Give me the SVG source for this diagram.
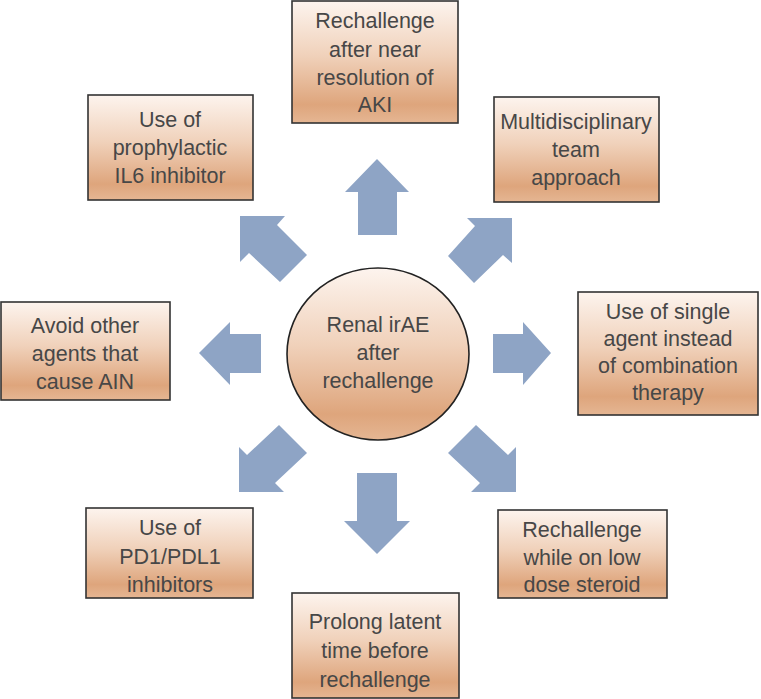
<svg xmlns="http://www.w3.org/2000/svg" width="761" height="699" viewBox="0 0 761 699">
<defs>
<linearGradient id="g" x1="0" y1="0" x2="0" y2="1">
<stop offset="0" stop-color="#fdf4ee"/>
<stop offset="0.45" stop-color="#f0d1ba"/>
<stop offset="0.85" stop-color="#dea57c"/>
<stop offset="1" stop-color="#e5b693"/>
</linearGradient>
<style>
.box{fill:url(#g);stroke:#333;stroke-width:1.6}
.t{font-family:"Liberation Sans",Arial,sans-serif;font-size:21.5px;fill:#474747;text-anchor:middle}
.ar{fill:#8ea4c5}
</style>
</defs>
<rect width="761" height="699" fill="#fff"/>
<g id="connectors">
<polygon class="ar" points="377,159 409,192 397,192 397,235 358,235 358,192 345,192"/>
<polygon class="ar" points="377,554 410,521 397,521 397,473 357,473 357,521 344,521"/>
<polygon class="ar" points="199,353 230,322 230,334 261,334 261,373 230,373 230,385"/>
<polygon class="ar" points="551,353 523,322 523,334 493,334 493,373 523,373 523,385"/>
<polygon class="ar" points="240,216 285,216 277,225 307,255 280,282 249,253 240,262"/>
<polygon class="ar" points="512,218 467,218 475,226 448,256 474,283 503,255 512,263"/>
<polygon class="ar" points="516,492 516,447 508,455 476,425 448,453 480,483 471,492"/>
<polygon class="ar" points="239,492 239,447 247,455 279,425 307,453 275,483 284,492"/>
</g>
<g id="center">
<ellipse cx="378" cy="354" rx="91" ry="86" fill="url(#g)" stroke="#222" stroke-width="1.6"/>
<text class="t" x="378" y="332">Renal irAE</text>
<text class="t" x="378" y="360">after</text>
<text class="t" x="378" y="388">rechallenge</text>
</g>
<g id="n-top">
<rect class="box" x="292" y="1" width="166" height="122"/>
<text class="t" x="375" y="28">Rechallenge</text>
<text class="t" x="375" y="57">after near</text>
<text class="t" x="375" y="85">resolution of</text>
<text class="t" x="375" y="112">AKI</text>
</g>
<g id="n-il6">
<rect class="box" x="88" y="95" width="165" height="105"/>
<text class="t" x="170" y="127">Use of</text>
<text class="t" x="170" y="155">prophylactic</text>
<text class="t" x="170" y="183">IL6 inhibitor</text>
</g>
<g id="n-multi">
<rect class="box" x="494" y="97" width="165" height="105"/>
<text class="t" x="576" y="129">Multidisciplinary</text>
<text class="t" x="576" y="157">team</text>
<text class="t" x="576" y="185">approach</text>
</g>
<g id="n-avoid">
<rect class="box" x="1" y="302" width="169" height="98"/>
<text class="t" x="85" y="333">Avoid other</text>
<text class="t" x="85" y="361">agents that</text>
<text class="t" x="85" y="389">cause AIN</text>
</g>
<g id="n-single">
<rect class="box" x="578" y="292" width="180" height="123"/>
<text class="t" x="668" y="319">Use of single</text>
<text class="t" x="668" y="346">agent instead</text>
<text class="t" x="668" y="373">of combination</text>
<text class="t" x="668" y="400">therapy</text>
</g>
<g id="n-pd1">
<rect class="box" x="86" y="508" width="167" height="90"/>
<text class="t" x="170" y="535">Use of</text>
<text class="t" x="170" y="564">PD1/PDL1</text>
<text class="t" x="170" y="592">inhibitors</text>
</g>
<g id="n-steroid">
<rect class="box" x="498" y="510" width="169" height="88"/>
<text class="t" x="582" y="537">Rechallenge</text>
<text class="t" x="582" y="565">while on low</text>
<text class="t" x="582" y="592">dose steroid</text>
</g>
<g id="n-prolong">
<rect class="box" x="292" y="593" width="167" height="105"/>
<text class="t" x="375" y="629">Prolong latent</text>
<text class="t" x="375" y="658">time before</text>
<text class="t" x="375" y="687">rechallenge</text>
</g>
</svg>
